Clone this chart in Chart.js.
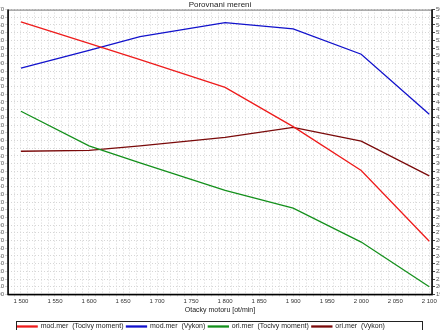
<!DOCTYPE html>
<html>
<head>
<meta charset="utf-8">
<script src="https://cdn.jsdelivr.net/npm/chart.js@4"></script>
<style>
  html, body { margin: 0; padding: 0; background: #fff; }
  #wrap { width: 440px; height: 330px; }
</style>
</head>
<body>
<div id="wrap"><canvas id="chart"></canvas></div>
<script>
// otacky motoru [ot/min]
const otacky = [1500, 1600, 1675, 1800, 1900, 2000, 2100];

// tocivy moment (leva osa) a vykon (prava osa)
const modMoment = [854, 826, 805, 769, 718, 661, 569];
const modVykon = [484, 507, 525, 543, 535, 502, 424];
const oriMoment = [738, 693, 671, 635, 612, 568, 510];
const oriVykon = [376, 377, 383, 394, 407, 389, 344];

const nazvy = [
  'mod.mer  (Tocivy moment)',
  'mod.mer  (Vykon)',
  'ori.mer  (Tocivy moment)',
  'ori.mer  (Vykon)',
];
const barvy = ['#ee1c1c', '#1212cc', '#14901c', '#7a0a0a'];

// rozsahy os
const momentOsa = { min: 500, max: 870, krok: 10 };
const vykonOsa = { min: 190, max: 560, krok: 10 };
const otackyOsa = { min: 1481, max: 2104, popisKrok: 50, mrizkaKrok: 10 };

const FONT = 'Liberation Sans, Arial, sans-serif';

const toPoints = (values) => values.map((v, i) => ({ x: otacky[i], y: v }));

const formatOtacky = (v) => `${Math.floor(v / 1000)} ${String(v % 1000).padStart(3, '0')}`;

// ramecek kolem plochy grafu
const chartAreaBorder = {
  id: 'chartAreaBorder',
  afterDraw(chart) {
    const { ctx, chartArea: { left, top, width, height } } = chart;
    ctx.save();
    ctx.strokeStyle = '#777';
    ctx.lineWidth = 1;
    ctx.strokeRect(left + 0.5, top + 0.5, width, height);
    ctx.strokeStyle = '#000';
    ctx.lineWidth = 1.5;
    ctx.beginPath();
    ctx.moveTo(left, top);
    ctx.lineTo(left, top + height);
    ctx.lineTo(left + width, top + height);
    ctx.lineTo(left + width, top);
    ctx.stroke();
    ctx.restore();
  },
};

// legenda posunuta doleva, s ramcem pod plochou grafu
const legendFrame = {
  id: 'legendFrame',
  afterLayout(chart) {
    const lg = chart.legend;
    if (!lg) return;
    lg.left -= 19;
    lg.right -= 19;
  },
  afterDraw(chart) {
    const lg = chart.legend;
    if (!lg) return;
    const { ctx, chartArea } = chart;
    const left = Math.round(chartArea.left + 8);
    const right = Math.round(chartArea.right - 10);
    const top = Math.round(lg.top + 1);
    const bottom = Math.round(lg.bottom);
    ctx.save();
    ctx.strokeStyle = '#222';
    ctx.lineWidth = 1;
    ctx.strokeRect(left + 0.5, top + 0.5, right - left, bottom - top);
    ctx.restore();
  },
};

const makeTicks = (min, max, step) => {
  const out = [];
  for (let v = Math.ceil(min / step) * step; v <= max; v += step) out.push({ value: v });
  return out;
};

const series = [modMoment, modVykon, oriMoment, oriVykon];
const axisOf = ['y', 'y1', 'y', 'y1'];

const data = {
  datasets: series.map((values, i) => ({
    label: nazvy[i],
    data: toPoints(values),
    yAxisID: axisOf[i],
    borderColor: barvy[i],
    backgroundColor: barvy[i],
    borderWidth: 1.3,
    pointRadius: 0,
    tension: 0,
  })),
};

const gridStyle = {
  color: '#d6d6d6',
  lineWidth: 1,
  tickLength: 3,
  drawTicks: true,
};

new Chart(document.getElementById('chart'), {
  type: 'line',
  data,
  options: {
    responsive: true,
    maintainAspectRatio: false,
    animation: false,
    layout: { padding: { left: -7, right: -7, top: 0, bottom: -10 } },
    plugins: {
      title: {
        display: true,
        text: 'Porovnani mereni',
        color: '#222',
        font: { family: FONT, size: 8, weight: 'normal' },
        padding: { top: 0, bottom: 0 },
      },
      legend: {
        position: 'bottom',
        labels: {
          boxWidth: 20,
          boxHeight: 1,
          padding: 3,
          color: '#222',
          font: { family: FONT, size: 7 },
        },
      },
      tooltip: { enabled: false },
    },
    scales: {
      x: {
        type: 'linear',
        min: otackyOsa.min,
        max: otackyOsa.max,
        afterBuildTicks(scale) {
          scale.ticks = makeTicks(otackyOsa.min, otackyOsa.max, otackyOsa.mrizkaKrok);
        },
        grid: { ...gridStyle, tickLength: 2 },
        border: { display: false, dash: [1, 2] },
        ticks: {
          autoSkip: false,
          maxRotation: 0,
          padding: 1,
          color: '#333',
          font: { family: FONT, size: 6 },
          callback(value) {
            return value % otackyOsa.popisKrok === 0 ? formatOtacky(value) : '';
          },
        },
        title: {
          display: true,
          text: 'Otacky motoru [ot/min]',
          color: '#222',
          font: { family: FONT, size: 7 },
          padding: { top: 0, bottom: 6 },
        },
      },
      y: {
        position: 'left',
        min: momentOsa.min,
        max: momentOsa.max,
        afterBuildTicks(scale) {
          scale.ticks = makeTicks(momentOsa.min, momentOsa.max, momentOsa.krok);
        },
        grid: gridStyle,
        border: { display: false, dash: [1, 2] },
        ticks: {
          autoSkip: false,
          padding: 1,
          color: '#555',
          font: { family: FONT, size: 6 },
        },
      },
      y1: {
        position: 'right',
        min: vykonOsa.min,
        max: vykonOsa.max,
        afterBuildTicks(scale) {
          scale.ticks = makeTicks(vykonOsa.min, vykonOsa.max, vykonOsa.krok);
        },
        grid: { drawOnChartArea: false, tickLength: 3, color: '#444' },
        border: { display: false },
        ticks: {
          autoSkip: false,
          padding: 1,
          color: '#555',
          font: { family: FONT, size: 6 },
        },
      },
    },
  },
  plugins: [chartAreaBorder, legendFrame],
});
</script>
</body>
</html>
